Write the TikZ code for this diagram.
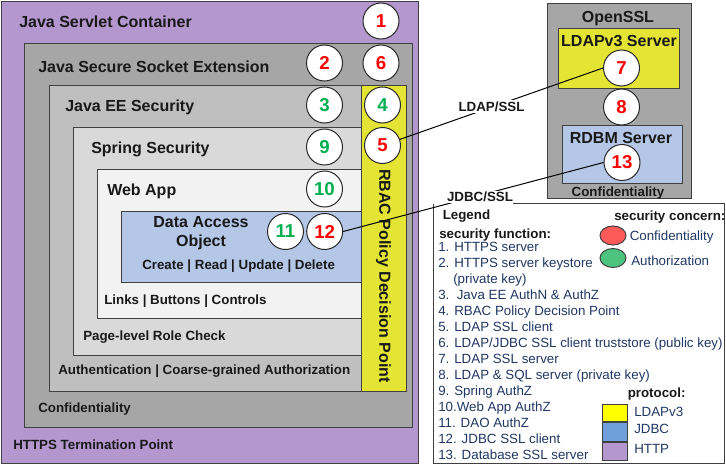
\documentclass[tikz,border=0pt]{standalone}
\usepackage{fontspec}
\setmainfont{Liberation Sans}
\begin{document}
\begin{tikzpicture}[x=0.75pt,y=0.75pt,yscale=-1,xscale=1,
  box/.style={draw={rgb, 255:red, 64; green, 64; blue, 64 }, line width=0.75pt},
  num/.style={circle, draw={rgb, 255:red, 40; green, 40; blue, 40 }, line width=0.75pt, fill=white, minimum size=27pt, inner sep=0pt, font=\bfseries\fontsize{14}{14}\selectfont},
  numr/.style={num, text={rgb, 255:red, 255; green, 0; blue, 0 }},
  numg/.style={num, text={rgb, 255:red, 0; green, 176; blue, 80 }},
  ttl/.style={inner sep=0pt, font=\bfseries\fontsize{12}{14.25}\selectfont, text={rgb, 255:red, 25; green, 25; blue, 25 }},
  sub/.style={inner sep=0pt, font=\bfseries\fontsize{10}{12}\selectfont, text={rgb, 255:red, 25; green, 25; blue, 25 }},
  itm/.style={inner sep=0pt, anchor=base west, font=\fontsize{10}{12}\selectfont, text={rgb, 255:red, 32; green, 56; blue, 100 }}]
\useasboundingbox (0,0) rectangle (726,464);

%Shape: Rectangle (servlet container)
\draw [box, fill={rgb, 255:red, 181; green, 151; blue, 207 }] (1,1) rectangle (418,463) ;
%Shape: Rectangle (jsse)
\draw [box, fill={rgb, 255:red, 166; green, 166; blue, 166 }] (24,43) rectangle (412,427) ;
%Shape: Rectangle (java ee)
\draw [box, fill={rgb, 255:red, 191; green, 191; blue, 191 }] (49,85) rectangle (406,391) ;
%Shape: Rectangle (spring)
\draw [box, fill={rgb, 255:red, 217; green, 217; blue, 217 }] (73,127) rectangle (361,355) ;
%Shape: Rectangle (web app)
\draw [box, fill={rgb, 255:red, 242; green, 242; blue, 242 }] (97,169) rectangle (361,318) ;
%Shape: Rectangle (dao)
\draw [box, fill={rgb, 255:red, 180; green, 199; blue, 231 }] (121,211) rectangle (361,282) ;
%Shape: Rectangle (rbac column)
\draw [box, fill={rgb, 255:red, 228; green, 228; blue, 53 }] (361,85) rectangle (406,391) ;
%Shape: Rectangle (openssl)
\draw [box, fill={rgb, 255:red, 166; green, 166; blue, 166 }] (547,3) rectangle (691,198) ;
%Shape: Rectangle (ldap server)
\draw [box, fill={rgb, 255:red, 228; green, 228; blue, 53 }] (558,28) rectangle (679,88) ;
%Shape: Rectangle (rdbm server)
\draw [box, fill={rgb, 255:red, 180; green, 199; blue, 231 }] (562,125) rectangle (682,183) ;
%Shape: Legend frame
\draw [box, fill=white] (513,203) -- (724,203) -- (724,463) -- (433,463) -- (433,204) ;

% Text Node
\node [ttl, anchor=base west] (servlet) at (19,27.5) {Java Servlet Container};
\node [ttl, anchor=base west] (jsse) at (38,72) {Java Secure Socket Extension};
\node [ttl, anchor=base west] (javaee) at (65,111.5) {Java EE Security};
\node [ttl, anchor=base west] (spring) at (91,153) {Spring Security};
\node [ttl, anchor=base west] (webapp) at (107,195) {Web App};
\node [ttl, align=center] (dao) at (201,233.5) {Data Access\\Object};
\node [sub, anchor=base west] (crud) at (142,269.5) {Create | Read | Update | Delete};
\node [sub, anchor=base west] (links) at (104,304.5) {Links | Buttons | Controls};
\node [sub, anchor=base west] (page) at (83,340) {Page-level Role Check};
\node [sub, anchor=base west] (authn) at (58,374.5) {Authentication | Coarse-grained Authorization};
\node [sub, anchor=base west] (conf) at (38,412) {Confidentiality};
\node [sub, anchor=base west] (https) at (13,449.5) {HTTPS Termination Point};
\node [ttl, rotate=-90] (rbac) at (383.5,276) {RBAC Policy Decision Point};
\node [ttl, anchor=base] (openssl) at (618,22) {OpenSSL};
\node [ttl, anchor=base] (ldapsrv) at (619,46) {LDAPv3 Server};
\node [ttl, anchor=base] (rdbmsrv) at (621,143) {RDBM Server};
\node [sub, anchor=base] (sslconf) at (618,196.5) {Confidentiality};

% Circles
\node [numr] (c1) at (381,21) {1};
\node [numr] (c2) at (324.5,63) {2};
\node [numg] (c3) at (324.5,105) {3};
\node [numg] (c4) at (382.5,105) {4};
\node [numr] (c5) at (382.5,145.5) {5};
\node [numr] (c6) at (381,63) {6};
\node [numr] (c7) at (621.5,68) {7};
\node [numr] (c8) at (621.5,107) {8};
\node [numg] (c9) at (324.5,147) {9};
\node [numg] (c10) at (324.5,189) {10};
\node [numg] (c11) at (285.5,231.5) {11};
\node [numr] (c12) at (324.7,231.5) {12};
\node [numr] (c13) at (622,162.5) {13};

%Straight Lines
\draw [line width=0.75pt] (c5) -- (c7.west) ;
\draw [line width=0.75pt] (c12.east) -- (c13.west) ;
\node [sub, fill=white, inner sep=1pt, anchor=base] (ldapssl) at (491.5,111) {LDAP/SSL};
\node [sub, fill=white, inner sep=1pt, anchor=base] (jdbcssl) at (480,201.5) {JDBC/SSL};

% Legend
\node [sub, anchor=base west] (legend) at (442.5,219.5) {Legend};
\node [sub, anchor=base west] (secfun) at (439,238) {security function:};
\node [sub, anchor=base west] (secconc) at (614,220) {security concern:};
\node [itm] (f1) at (438,251.4) {1. HTTPS server};
\node [itm] (f2) at (438,267.4) {2. HTTPS server keystore};
\node [itm] (f2b) at (453,283.4) {(private key)};
\node [itm] (f3) at (438,299.4) {3.\ \ Java EE AuthN \& AuthZ};
\node [itm] (f4) at (438,315.4) {4. RBAC Policy Decision Point};
\node [itm] (f5) at (438,331.4) {5. LDAP SSL client};
\node [itm] (f6) at (438,347.4) {6. LDAP/JDBC SSL client truststore (public key)};
\node [itm] (f7) at (438,363.4) {7. LDAP SSL server};
\node [itm] (f8) at (438,379.4) {8. LDAP \& SQL server (private key)};
\node [itm] (f9) at (438,395.4) {9. Spring AuthZ};
\node [itm] (f10) at (438,411.4) {10.Web App AuthZ};
\node [itm] (f11) at (438,427.4) {11. DAO AuthZ};
\node [itm] (f12) at (438,443.4) {12. JDBC SSL client};
\node [itm] (f13) at (438,459.4) {13. Database SSL server};

%Shape: Ellipse
\draw [box, fill={rgb, 255:red, 255; green, 90; blue, 90 }] (613,235.5) ellipse (13 and 9.5) ;
\draw [box, fill={rgb, 255:red, 76; green, 196; blue, 128 }] (613,258) ellipse (13 and 9.5) ;
\node [itm] (kconf) at (629.5,240) {Confidentiality};
\node [itm] (kauth) at (631,265) {Authorization};

\node [sub, anchor=base west] (proto) at (627.5,397.5) {protocol:};
%Shape: Square
\draw [box, fill={rgb, 255:red, 255; green, 255; blue, 0 }] (602,404) rectangle (627,421) ;
\draw [box, fill={rgb, 255:red, 111; green, 160; blue, 220 }] (602,422) rectangle (627,441) ;
\draw [box, fill={rgb, 255:red, 181; green, 151; blue, 207 }] (602,442) rectangle (627,460) ;
\node [itm] (pldap) at (634,416) {LDAPv3};
\node [itm] (pjdbc) at (634,433.5) {JDBC};
\node [itm] (phttp) at (634,453) {HTTP};

\end{tikzpicture}
\end{document}
